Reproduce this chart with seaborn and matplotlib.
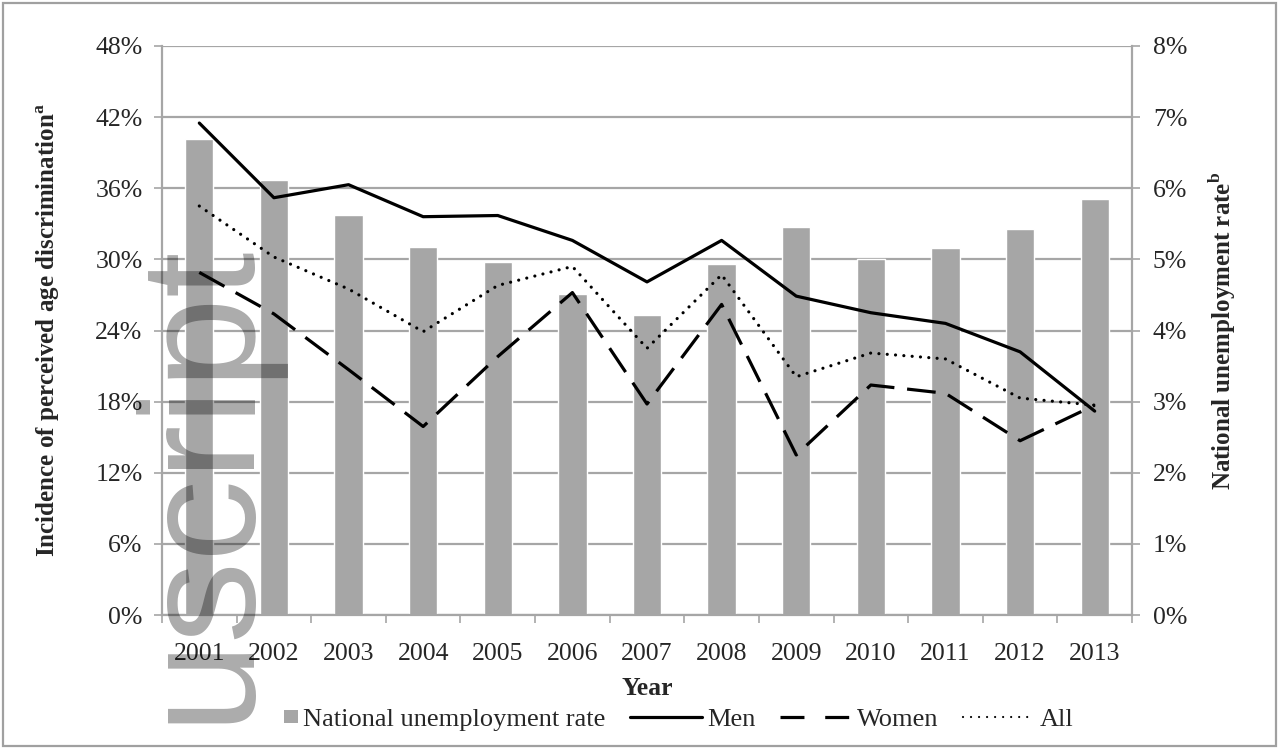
import numpy as np
import pandas as pd
import matplotlib
matplotlib.use("Agg")
import matplotlib.pyplot as plt
from matplotlib.patches import Rectangle, Patch
from matplotlib.lines import Line2D
from matplotlib.legend_handler import HandlerPatch
from matplotlib.ticker import FixedLocator, FuncFormatter
import seaborn as sns

years = ["2001", "2002", "2003", "2004", "2005", "2006", "2007",
         "2008", "2009", "2010", "2011", "2012", "2013"]
unemployment = [6.69, 6.11, 5.63, 5.18, 4.96, 4.51, 4.22, 4.93, 5.45, 5.00, 5.16, 5.43, 5.85]
men = [41.5, 35.2, 36.3, 33.6, 33.7, 31.6, 28.1, 31.6, 26.9, 25.5, 24.6, 22.2, 17.2]
women = [28.9, 25.4, 20.7, 15.9, 21.8, 27.2, 17.8, 26.2, 13.5, 19.4, 18.7, 14.7, 17.7]
all_people = [34.5, 30.2, 27.5, 23.9, 27.8, 29.4, 22.5, 28.7, 20.1, 22.1, 21.6, 18.3, 17.7]

sns.set_style("white")
plt.rcParams["font.family"] = ["Liberation Serif", "DejaVu Serif"]
plt.rcParams["mathtext.fontset"] = "custom"
plt.rcParams["mathtext.rm"] = "Liberation Serif"
plt.rcParams["mathtext.bf"] = "Liberation Serif:bold"

grid_col = "#a6a6a6"
bar_col = "#a6a6a6"
fs = 18.5

fig = plt.figure(figsize=(12.79, 7.49), dpi=100)
ax_r = fig.add_axes([162 / 1279, 1 - 615 / 749, (1132 - 162) / 1279, (615 - 46) / 749])
ax_l = ax_r.twinx()
# swap sides so the line axis is on the left and drawn on top
ax_l.yaxis.tick_left()
ax_l.yaxis.set_label_position("left")
ax_r.yaxis.tick_right()
ax_r.yaxis.set_label_position("right")
ax_l.set_zorder(ax_r.get_zorder() + 1)
ax_l.patch.set_visible(False)

df_bar = pd.DataFrame({"Year": years, "Rate": unemployment})
sns.barplot(data=df_bar, x="Year", y="Rate", color=bar_col, saturation=1,
            width=0.38, ax=ax_r, zorder=2)

xpos = np.arange(len(years))
sns.lineplot(x=xpos, y=men, ax=ax_l, color="black", lw=2.3)
sns.lineplot(x=xpos, y=women, ax=ax_l, color="black", lw=2.3, linestyle=(0, (9, 4)))
sns.lineplot(x=xpos, y=all_people, ax=ax_l, color="black", lw=2.3,
             linestyle=(0, (0.01, 2.6)), dash_capstyle="round")

ax_r.set_xlim(-0.5, 12.5)
ax_l.set_xlim(-0.5, 12.5)
ax_r.set_ylim(0, 8)
ax_l.set_ylim(0, 48)
ax_r.set_yticks(range(0, 9))
ax_l.set_yticks(range(0, 49, 6))
ax_r.yaxis.set_major_formatter(FuncFormatter(lambda v, p: f"{v:.0f}%"))
ax_l.yaxis.set_major_formatter(FuncFormatter(lambda v, p: f"{v:.0f}%"))

ax_r.grid(axis="y", color=grid_col, lw=1.6)
ax_r.set_axisbelow(True)
ax_r.grid(axis="x", visible=False)

for ax in (ax_r, ax_l):
    for s in ax.spines.values():
        s.set_visible(False)
ax_l.spines["left"].set_visible(True)
ax_l.spines["left"].set_color(grid_col)
ax_l.spines["left"].set_linewidth(1.6)
ax_r.spines["right"].set_visible(True)
ax_r.spines["right"].set_color(grid_col)
ax_r.spines["right"].set_linewidth(1.6)
ax_r.spines["bottom"].set_visible(True)
ax_r.spines["bottom"].set_color(grid_col)
ax_r.spines["bottom"].set_linewidth(1.6)

ax_l.tick_params(axis="y", which="major", direction="out", length=6, width=1.2,
                 color=grid_col, pad=8, labelsize=fs, left=True)
ax_r.tick_params(axis="y", which="major", direction="out", length=6, width=1.2,
                 color=grid_col, pad=9, labelsize=fs, right=True)
ax_r.set_xticks(xpos)
ax_r.set_xticklabels(years)
ax_r.xaxis.set_minor_locator(FixedLocator(np.arange(-0.5, 13, 1)))
ax_r.tick_params(axis="x", which="major", length=0, pad=20, labelsize=fs)
ax_r.tick_params(axis="x", which="minor", direction="out", length=6, width=1.2,
                 color=grid_col, bottom=True)
ax_l.tick_params(axis="x", which="both", bottom=False, labelbottom=False)

ax_r.set_xlabel("Year", fontsize=fs, fontweight="bold", labelpad=9)
ax_l.set_ylabel(r"Incidence of perceived age discrimination$^{\mathbf{a}}$",
                fontsize=18, fontweight="bold", labelpad=24)
ax_r.set_ylabel(r"National unemployment rate$^{\mathbf{b}}$",
                fontsize=18, fontweight="bold", labelpad=14)


def square_at_right(legend, orig_handle, xdescent, ydescent, width, height, fontsize):
    s = 9.5
    return Rectangle((-xdescent + width - s, -ydescent + (height - s) / 2), s, s)


handles = [
    Patch(facecolor=bar_col, edgecolor="none"),
    Line2D([], [], color="black", lw=2.3),
    Line2D([], [], color="black", lw=2.3, linestyle=(0, (7.5, 6.5))),
    Line2D([], [], color="black", lw=1.6, linestyle=(0, (0.01, 3.6)), dash_capstyle="round"),
]
labels = ["National unemployment rate", "Men", "Women", "All"]
fig.legend(handles, labels, loc="center", bbox_to_anchor=(650 / 1279, 1 - 719 / 749),
           ncol=4, frameon=False, fontsize=19, handlelength=2.7,
           handletextpad=0.2, columnspacing=0.95,
           handler_map={Patch: HandlerPatch(patch_func=square_at_right)})

# grey frame around the chart area
fig.patches.append(Rectangle((3 / 1279, 3 / 749), 1 - 6 / 1279, 1 - 6 / 749,
                             transform=fig.transFigure, fill=False,
                             edgecolor="#a0a0a0", lw=1.6))

# watermark
fig.text(244 / 1279, 1 - 240 / 749, "uscript", rotation=90,
         rotation_mode="anchor", ha="right", va="baseline", fontsize=118,
         family="Liberation Sans", color="black", alpha=0.33, zorder=10)

fig.savefig("out.png", dpi=100)
